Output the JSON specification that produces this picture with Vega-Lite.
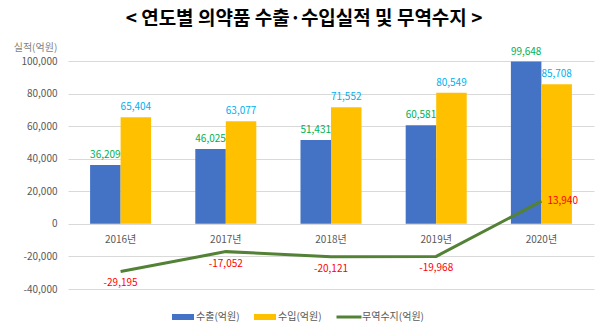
{
  "$schema": "https://vega.github.io/schema/vega-lite/v6.json",
  "width": 526,
  "height": 228,
  "autosize": {"type": "none"},
  "padding": {"left": 68, "top": 61, "right": 6, "bottom": 44},
  "background": "white",
  "config": {
    "font": "Noto Sans CJK KR",
    "view": {"stroke": null},
    "locale": {
      "number": {
        "decimal": ".",
        "thousands": ",",
        "grouping": [3],
        "currency": ["", ""],
        "minus": "-"
      }
    }
  },
  "title": {
    "text": "< 연도별 의약품 수출·수입실적 및 무역수지 >",
    "fontSize": 19,
    "fontWeight": "bold",
    "color": "#000000",
    "anchor": "middle",
    "dx": -27,
    "offset": 13
  },
  "data": {
    "values": [
      {"year": "2016년", "series": "수출(억원)", "value": 36209},
      {"year": "2016년", "series": "수입(억원)", "value": 65404},
      {"year": "2016년", "series": "무역수지(억원)", "value": -29195},
      {"year": "2017년", "series": "수출(억원)", "value": 46025},
      {"year": "2017년", "series": "수입(억원)", "value": 63077},
      {"year": "2017년", "series": "무역수지(억원)", "value": -17052},
      {"year": "2018년", "series": "수출(억원)", "value": 51431},
      {"year": "2018년", "series": "수입(억원)", "value": 71552},
      {"year": "2018년", "series": "무역수지(억원)", "value": -20121},
      {"year": "2019년", "series": "수출(억원)", "value": 60581},
      {"year": "2019년", "series": "수입(억원)", "value": 80549},
      {"year": "2019년", "series": "무역수지(억원)", "value": -19968},
      {"year": "2020년", "series": "수출(억원)", "value": 99648},
      {"year": "2020년", "series": "수입(억원)", "value": 85708},
      {"year": "2020년", "series": "무역수지(억원)", "value": 13940}
    ]
  },
  "encoding": {
    "x": {
      "field": "year",
      "type": "nominal",
      "scale": {"paddingInner": 0.42, "paddingOuter": 0.21},
      "axis": {
        "title": null,
        "labelAngle": 0,
        "domain": false,
        "ticks": false,
        "grid": false,
        "offset": -65,
        "labelPadding": 10,
        "labelFontSize": 10,
        "labelColor": "#595959"
      }
    },
    "y": {
      "field": "value",
      "type": "quantitative",
      "scale": {"domain": [-40000, 100000], "nice": false},
      "axis": {
        "values": [-40000, -20000, 0, 20000, 40000, 60000, 80000, 100000],
        "format": ",.0f",
        "title": "실적(억원)",
        "titleAngle": 0,
        "titleX": -33,
        "titleY": -14,
        "titleAlign": "center",
        "titleBaseline": "middle",
        "titleFontSize": 10,
        "titleFontWeight": "normal",
        "titleColor": "#7f7f7f",
        "domain": false,
        "ticks": false,
        "labelPadding": 11,
        "labelFontSize": 10,
        "labelColor": "#595959",
        "gridColor": "#d9d9d9",
        "gridWidth": 1
      }
    }
  },
  "layer": [
    {
      "transform": [{"filter": "datum.series !== '무역수지(억원)'"}],
      "mark": {"type": "bar"},
      "encoding": {
        "xOffset": {"field": "series", "type": "nominal", "sort": ["수출(억원)", "수입(억원)"]},
        "color": {
          "field": "series",
          "type": "nominal",
          "scale": {
            "domain": ["수출(억원)", "수입(억원)", "무역수지(억원)"],
            "range": ["#4472C4", "#FFC000", "#538135"]
          },
          "legend": {
            "title": null,
            "orient": "none",
            "direction": "horizontal",
            "legendX": 105,
            "legendY": 246,
            "labelFontSize": 10,
            "labelColor": "#595959",
            "symbolType": "M-1.1,-0.3H1.1V0.3H-1.1Z",
            "symbolSize": 400,
            "symbolStrokeWidth": 0,
            "columnPadding": 14,
            "labelOffset": 3,
            "encode": {
              "symbols": {
                "update": {
                  "shape": {"signal": "datum.label === '무역수지(억원)' ? 'M-1.25,-0.15H1.25V0.15H-1.25Z' : 'M-1.1,-0.3H1.1V0.3H-1.1Z'"}
                }
              }
            }
          }
        }
      }
    },
    {
      "transform": [{"filter": "datum.series !== '무역수지(억원)'"}],
      "mark": {"type": "text", "dy": -10, "fontSize": 10},
      "encoding": {
        "xOffset": {"field": "series", "type": "nominal", "sort": ["수출(억원)", "수입(억원)"]},
        "text": {"field": "value", "type": "quantitative", "format": ","},
        "color": {
          "condition": {"test": "datum.series === '수출(억원)'", "value": "#00B050"},
          "value": "#00B0F0"
        }
      }
    },
    {
      "transform": [{"filter": "datum.series === '무역수지(억원)'"}],
      "mark": {"type": "line", "strokeWidth": 3},
      "encoding": {
        "color": {"field": "series", "type": "nominal"}
      }
    },
    {
      "transform": [{"filter": "datum.series === '무역수지(억원)' && datum.value < 0"}],
      "mark": {"type": "text", "dy": 12, "fontSize": 10, "color": "#FF0000"},
      "encoding": {
        "text": {"field": "value", "type": "quantitative", "format": ","}
      }
    },
    {
      "transform": [{"filter": "datum.series === '무역수지(억원)' && datum.value >= 0"}],
      "mark": {"type": "text", "dx": 6, "dy": 0, "align": "left", "fontSize": 10, "color": "#FF0000"},
      "encoding": {
        "text": {"field": "value", "type": "quantitative", "format": ","}
      }
    }
  ]
}
